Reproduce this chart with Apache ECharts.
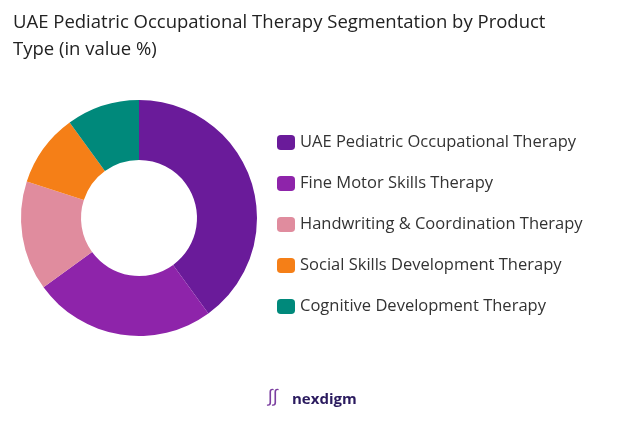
<!DOCTYPE html>
<html><head><meta charset="utf-8">
<script src="https://cdn.jsdelivr.net/npm/echarts@6/dist/echarts.min.js"></script>
<style>html,body{margin:0;padding:0;background:#fff}#c{width:624px;height:421px}</style>
</head><body><div id="c"></div>
<script>
const categories=["UAE Pediatric Occupational Therapy","Fine Motor Skills Therapy","Handwriting & Coordination Therapy","Social Skills Development Therapy","Cognitive Development Therapy"];
const values=[40,25,15,10,10];
const colors=["#6a1b9a","#8e24aa","#e08c9e","#f57f17","#00897b"];
const chart=echarts.init(document.getElementById('c'));
chart.setOption({
  color:colors,
  title:{text:"UAE Pediatric Occupational Therapy Segmentation by Product\nType (in value %)",left:8,top:4,textStyle:{fontFamily:"Open Sans",fontSize:18.5,fontWeight:"normal",color:"#222",lineHeight:27}},
  legend:{orient:"vertical",left:272,top:129,itemWidth:18,itemHeight:15,itemGap:24,icon:"roundRect",
    textStyle:{fontFamily:"Open Sans",fontSize:16.5,color:"#333"},data:categories},
  graphic:[{type:"text",left:292,top:392,style:{text:"nexdigm",fontFamily:"Open Sans",fontSize:15,fontWeight:"bold",fill:"#2a1a5e"}},
           {type:"text",left:268,top:388,style:{text:"\u222b\u222b",fontSize:18,fill:"#7b3fa0"}}],
  series:[{type:"pie",center:[139,218],radius:[58,118],startAngle:90,clockwise:true,label:{show:false},labelLine:{show:false},
    itemStyle:{borderWidth:0},
    data:categories.map((n,i)=>({name:n,value:values[i]}))}]
});
</script></body></html>
